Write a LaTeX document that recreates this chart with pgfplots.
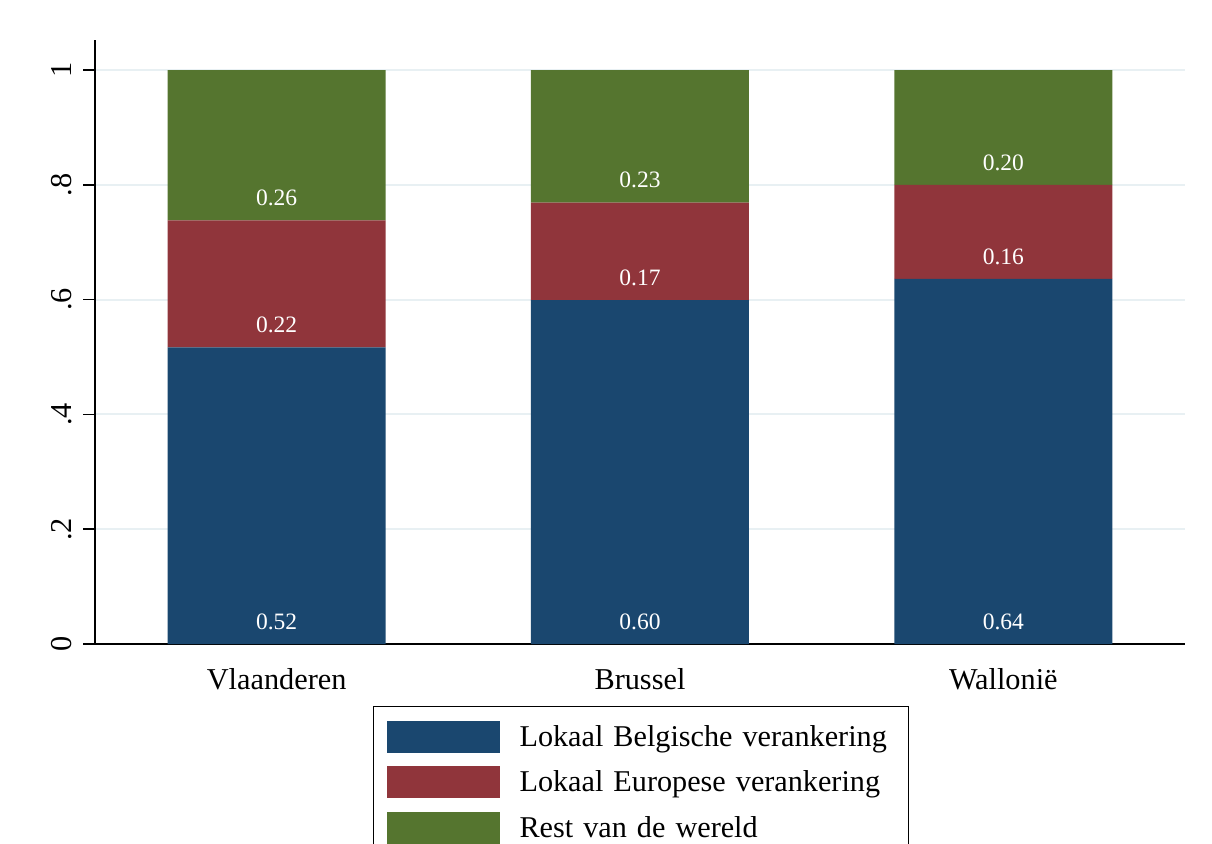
\documentclass[border=0pt]{standalone}
\usepackage{pgfplots}
\usepackage{pgfplotstable}
\pgfplotsset{compat=1.18}
\usepackage{fontspec}
\setmainfont{Liberation Serif}
\definecolor{sblue}{RGB}{26,71,111}
\definecolor{sred}{RGB}{144,53,59}
\definecolor{sgreen}{RGB}{85,117,47}
\definecolor{sgrid}{RGB}{232,240,243}

\pgfplotstableread{
x a b c
0 0.517 0.221 0.262
1 0.599 0.170 0.231
2 0.636 0.164 0.200
}\shares

\pgfplotstableread{
x y l
0 0.038 0.52
0 0.556 0.22
0 0.777 0.26
1 0.038 0.60
1 0.638 0.17
1 0.808 0.23
2 0.038 0.64
2 0.675 0.16
2 0.839 0.20
}\labels

\pgfplotsset{
  swatch/.style={legend image code/.code={\fill[##1] (0pt,-16pt) rectangle (113pt,16pt);}}
}

\begin{document}
\begin{tikzpicture}
\useasboundingbox (0pt,0pt) rectangle (1212pt,-843pt);
\clip (0pt,0pt) rectangle (1212pt,-843pt);
\begin{axis}[
  at={(95pt,-644pt)}, anchor=south west,
  scale only axis, width=1090pt, height=604pt,
  xmin=-0.5, xmax=2.5, ymin=0, ymax=1.0523,
  axis x line=bottom, axis y line=left,
  axis line style={line width=1.5pt,-},
  ybar stacked, bar width=0.6,
  xtick={0,1,2}, xticklabels={Vlaanderen,Brussel,Wallonië},
  xtick style={draw=none},
  ytick={0,0.2,0.4,0.6,0.8,1}, yticklabels={0,.2,.4,.6,.8,1},
  ytick style={line width=1.5pt, black},
  tick align=outside, major tick length=12pt,
  ymajorgrids, grid style={sgrid, line width=2pt},
  tick label style={font=\fontsize{30.3}{36}\selectfont},
  yticklabel style={rotate=90, anchor=south, inner sep=0pt, yshift=11pt},
  xticklabel style={anchor=north, inner sep=0pt, yshift=-12pt},
  legend cell align=left,
  legend style={at={(axis description cs:0.255,-0.1026)}, anchor=north west,
    draw=black, line width=1.2pt, inner xsep=13pt, inner ysep=14pt,
    row sep=13.5pt, font=\fontsize{30.2}{36}\selectfont,
    nodes={inner sep=0pt, text width=376pt, align=left},
    /tikz/every odd column/.append style={column sep=20pt}},
]
\addplot[fill=sblue, draw=none, swatch] table[x=x,y=a]{\shares};
\addplot[fill=sred, draw=none, swatch] table[x=x,y=b]{\shares};
\addplot[fill=sgreen, draw=none, swatch] table[x=x,y=c]{\shares};
\legend{Lokaal Belgische verankering, Lokaal Europese verankering, Rest van de wereld}
\end{axis}
\begin{axis}[
  at={(95pt,-644pt)}, anchor=south west,
  scale only axis, width=1090pt, height=604pt,
  xmin=-0.5, xmax=2.5, ymin=0, ymax=1.0523,
  hide axis,
]
\addplot[only marks, mark=*, mark size=0pt, mark options={draw=none,fill=none},
  nodes near coords, point meta=explicit symbolic,
  every node near coord/.style={anchor=center, inner sep=0pt, white,
    font=\fontsize{23.5}{28}\selectfont}]
  table[x=x,y=y,meta=l]{\labels};
\end{axis}
\end{tikzpicture}
\end{document}
